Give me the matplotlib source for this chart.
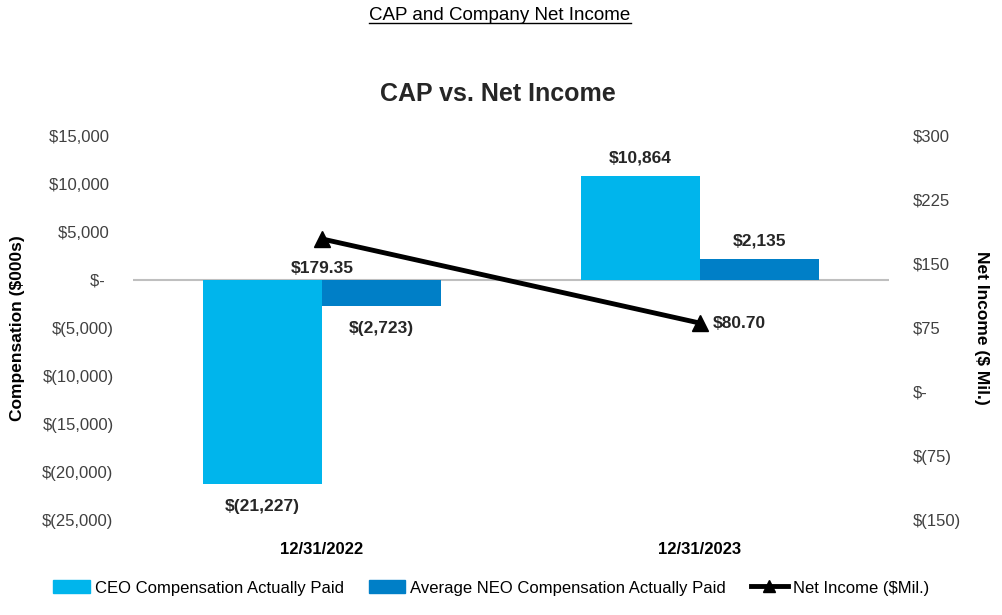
import matplotlib.pyplot as plt
from matplotlib.patches import Patch
from matplotlib.lines import Line2D

categories = ['12/31/2022', '12/31/2023']
ceo_cap = [-21227, 10864]
neo_cap = [-2723, 2135]
net_income = [179.35, 80.70]

left_ticks = [15000, 10000, 5000, 0, -5000, -10000, -15000, -20000, -25000]
right_ticks = [300, 225, 150, 75, 0, -75, -150]

ceo_color = '#00B5EC'
neo_color = '#007FC7'
tick_color = '#404040'

plt.rcParams['font.family'] = ['Liberation Sans', 'DejaVu Sans']
narrow = ['Liberation Sans Narrow', 'Liberation Sans', 'DejaVu Sans']


def money(v, dec=0):
    if v == 0:
        return '$-  '
    s = '{:,.{d}f}'.format(abs(v), d=dec)
    if v < 0:
        return '$(' + s + ')'
    return '$' + s + ' '


fig = plt.figure(figsize=(10.02, 6.15), dpi=100)
ax = fig.add_axes([0.1327, 0.1545, 0.7545, 0.6244])
ax2 = ax.twinx()

w = 0.315
xs = range(len(categories))
ax.bar([x - w / 2 for x in xs], ceo_cap, w, color=ceo_color, zorder=2)
ax.bar([x + w / 2 for x in xs], neo_cap, w, color=neo_color, zorder=2)
ax.axhline(0, color='#BFBFBF', lw=1.5, zorder=1)

ax.set_xlim(-0.5, 1.5)
ax.set_ylim(-25000, 15000)
ax.set_yticks(left_ticks, [money(t) for t in left_ticks])
ax.set_xticks(list(xs), categories)
ax.tick_params(axis='x', length=0, pad=16)
ax.tick_params(axis='y', length=0, pad=14, labelsize=12, labelcolor=tick_color)
for lab in ax.get_xticklabels():
    lab.set_fontweight('bold')
    lab.set_fontsize(12)
    lab.set_family(narrow)

ax2.plot(list(xs), net_income, color='black', lw=3.5, marker='^', ms=12, zorder=3)
ax2.set_ylim(-150, 300)
ax2.set_yticks(right_ticks, [money(t).strip() if t >= 0 else money(t) for t in right_ticks])
ax2.tick_params(axis='y', length=0, pad=17, labelsize=12, labelcolor=tick_color)

for a in (ax, ax2):
    for sp in a.spines.values():
        sp.set_visible(False)

ax.set_ylabel('Compensation ($000s)', fontsize=12.5, fontweight='bold', labelpad=12)
ax2.set_ylabel('Net Income ($ Mil.)', fontsize=12.5, fontweight='bold', rotation=270, labelpad=20)

# data labels
lbl = dict(fontsize=12.5, fontweight='bold', color='#262626')
ax.annotate(money(ceo_cap[0]).strip(), (0 - w / 2, ceo_cap[0]), xytext=(0, -11),
            textcoords='offset points', ha='center', va='top', **lbl)
ax.annotate(money(neo_cap[0]).strip(), (0 + w / 2, neo_cap[0]), xytext=(0, -11),
            textcoords='offset points', ha='center', va='top', **lbl)
ax.annotate(money(ceo_cap[1]).strip(), (1 - w / 2, ceo_cap[1]), xytext=(0, 7),
            textcoords='offset points', ha='center', va='bottom', **lbl)
ax.annotate(money(neo_cap[1]).strip(), (1 + w / 2, neo_cap[1]), xytext=(0, 8),
            textcoords='offset points', ha='center', va='bottom', **lbl)
ax2.annotate(money(net_income[0], 2).strip(), (0, net_income[0]), xytext=(0, -16),
             textcoords='offset points', ha='center', va='top', **lbl)
ax2.annotate(money(net_income[1], 2).strip(), (1, net_income[1]), xytext=(9, 0),
             textcoords='offset points', ha='left', va='center', **lbl)

fig.text(0.497, 0.847, 'CAP vs. Net Income', ha='center', va='center',
         fontsize=18, fontweight='bold', color='#262626')

t = fig.text(0.499, 0.975, 'CAP and Company Net Income', ha='center', va='center',
             fontsize=13.5, family=narrow, color='black')
fig.canvas.draw()
bb = t.get_window_extent().transformed(fig.transFigure.inverted())
fig.add_artist(Line2D([bb.x0, bb.x1], [bb.y0 + 0.002, bb.y0 + 0.002], color='black', lw=1,
                      transform=fig.transFigure))

handles = [Patch(color=ceo_color), Patch(color=neo_color),
           Line2D([], [], color='black', lw=3.5, marker='^', ms=8)]
labels = ['CEO Compensation Actually Paid', 'Average NEO Compensation Actually Paid',
          'Net Income ($Mil.)']
fig.legend(handles, labels, loc='center', bbox_to_anchor=(0.49, 0.044), ncol=3,
           frameon=False, prop={'family': narrow, 'size': 12}, handlelength=2.2,
           handleheight=0.8, handletextpad=0.3, columnspacing=1.5)

fig.savefig('out.png', dpi=100)
